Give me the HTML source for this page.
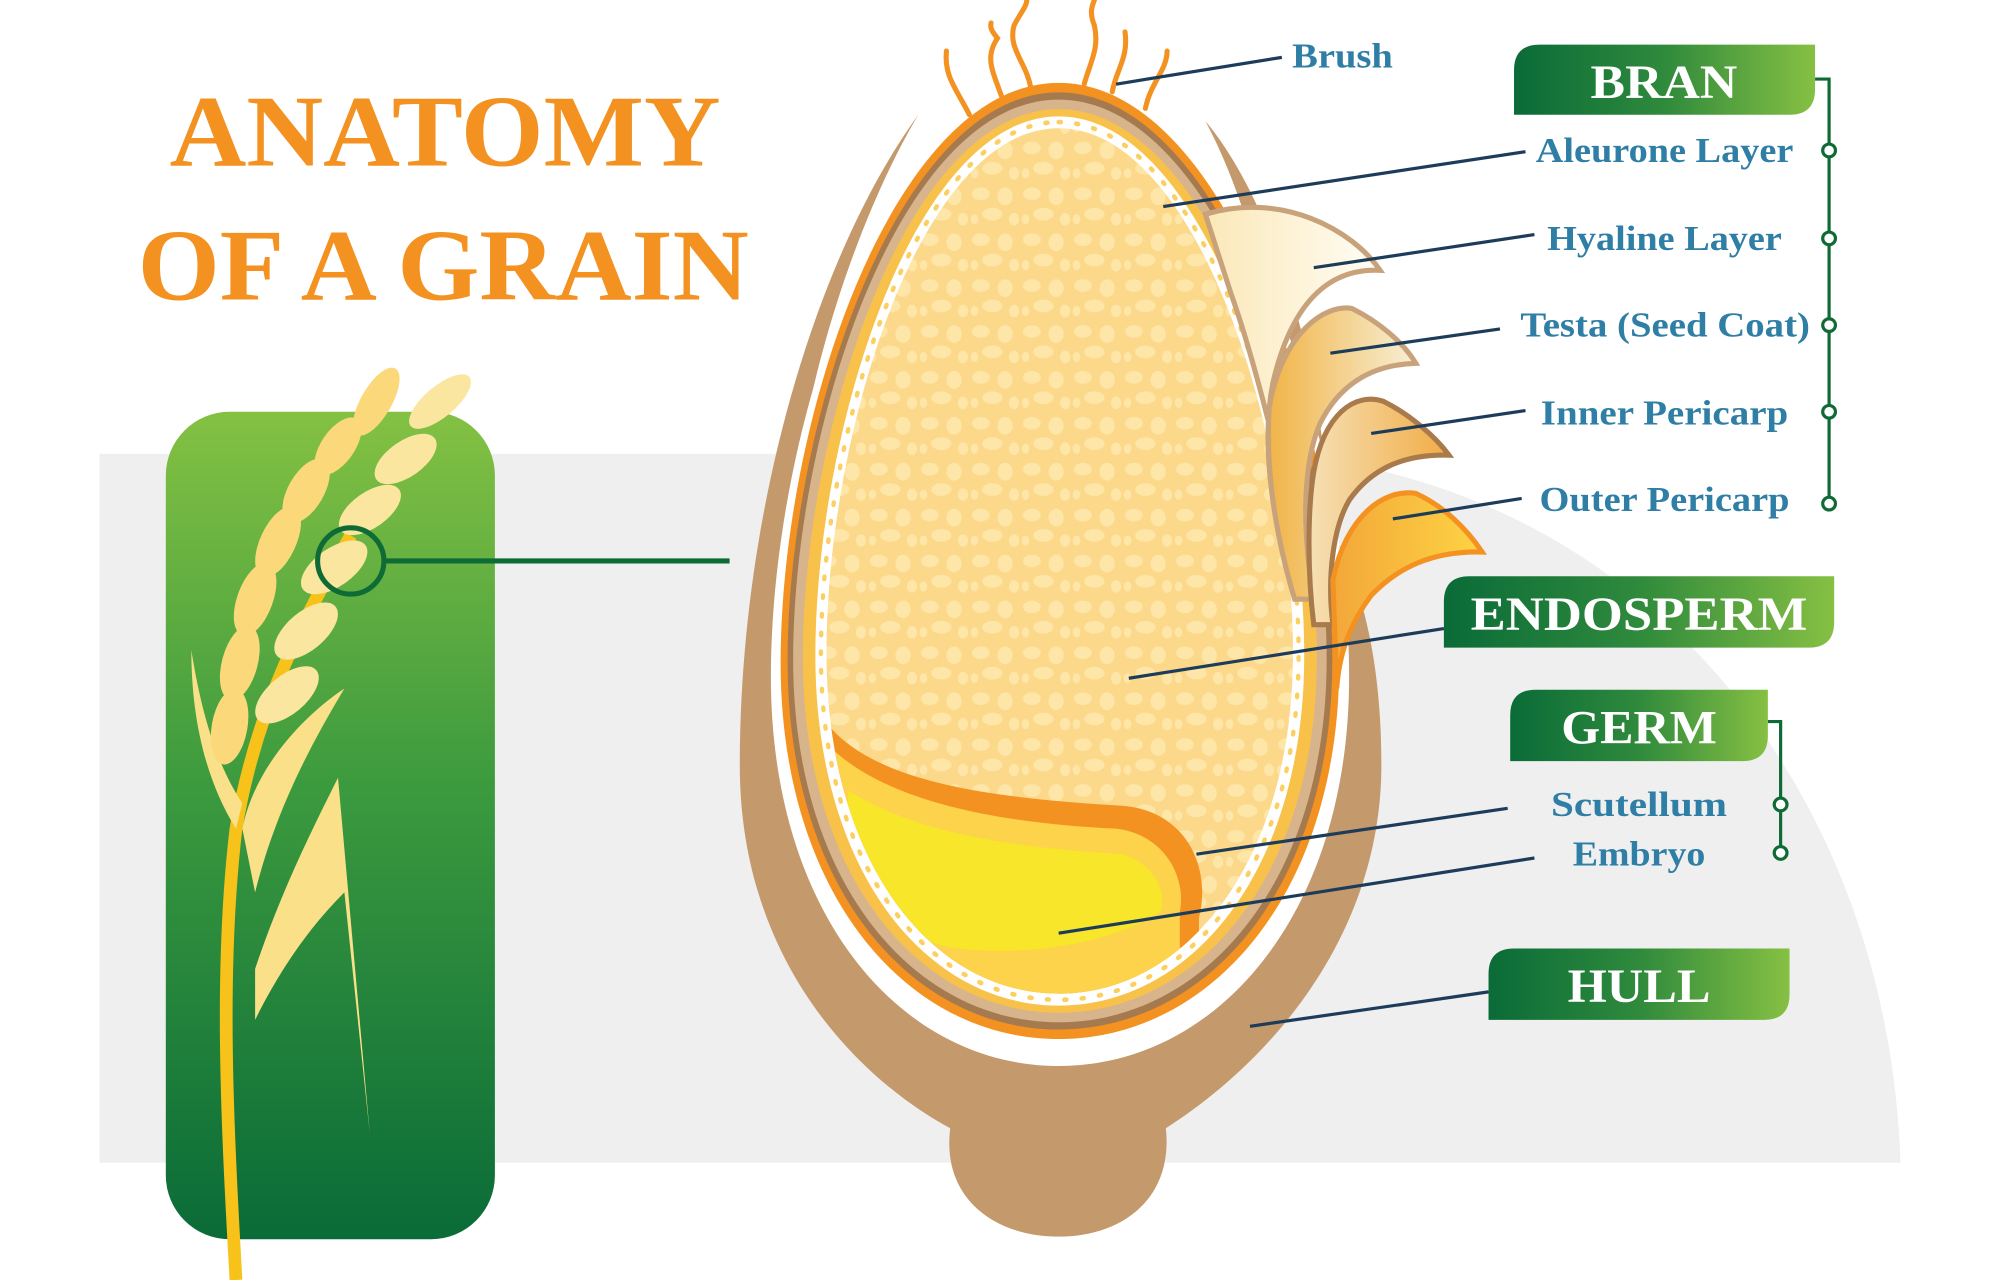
<!DOCTYPE html>
<html><head><meta charset="utf-8"><style>html,body{margin:0;padding:0;background:#fff}svg{display:block}</style></head>
<body>
<svg width="2000" height="1280" viewBox="0 0 1568 1004" preserveAspectRatio="none" xmlns="http://www.w3.org/2000/svg">
<defs>
<linearGradient id="gBox" x1="0" y1="0" x2="1" y2="0"><stop offset="0" stop-color="#0a6b38"/><stop offset="0.5" stop-color="#2f8a3c"/><stop offset="1" stop-color="#86c043"/></linearGradient>
<linearGradient id="gPanel" x1="0" y1="0" x2="0" y2="1"><stop offset="0" stop-color="#84c143"/><stop offset="0.45" stop-color="#3c9a3e"/><stop offset="1" stop-color="#0a6b38"/></linearGradient>
<linearGradient id="gF1" x1="0" y1="0" x2="1" y2="0"><stop offset="0" stop-color="#fbe8b8"/><stop offset="1" stop-color="#fffdf5"/></linearGradient>
<linearGradient id="gF2" x1="0" y1="0" x2="1" y2="0"><stop offset="0" stop-color="#f1b447"/><stop offset="1" stop-color="#f7efd6"/></linearGradient>
<linearGradient id="gF3" x1="0" y1="0" x2="1" y2="0"><stop offset="0" stop-color="#f6e0b5"/><stop offset="1" stop-color="#f1ac45"/></linearGradient>
<linearGradient id="gF4" x1="0" y1="0" x2="1" y2="0"><stop offset="0" stop-color="#f3a73a"/><stop offset="1" stop-color="#fdd443"/></linearGradient>
<pattern id="blobs" width="40" height="36" patternUnits="userSpaceOnUse">
<rect width="40" height="36" fill="#fcd88a"/>
<ellipse cx="9" cy="8" rx="7" ry="5" fill="#fde6a8"/><ellipse cx="28" cy="10" rx="6" ry="7" fill="#fde6a8"/>
<ellipse cx="18" cy="24" rx="8" ry="5" fill="#fde6a8"/><ellipse cx="35" cy="28" rx="4" ry="5" fill="#fde6a8"/><ellipse cx="4" cy="28" rx="3" ry="4" fill="#fde6a8"/>
</pattern>
<clipPath id="inner"><path transform="translate(830,440) scale(0.835,0.905) translate(-830,-440)" d="M830,65 C960,65 1050,330 1050,520 C1050,700 950,815 830,815 C710,815 612,700 612,520 C612,330 700,65 830,65 Z"/></clipPath>
</defs>
<rect width="1568" height="1004" fill="#fff"/>
<path d="M78,356 L1000,356 C1290,380 1480,620 1490,912 L78,912 Z" fill="#efefef"/>
<text x="133" y="130" textLength="432" lengthAdjust="spacingAndGlyphs" font-family="Liberation Serif, serif" font-weight="bold" font-size="80" fill="#f39221">ANATOMY</text>
<text x="108" y="235" textLength="479" lengthAdjust="spacingAndGlyphs" font-family="Liberation Serif, serif" font-weight="bold" font-size="80" fill="#f39221">OF A GRAIN</text>
<rect x="130" y="323" width="258" height="649" rx="50" fill="url(#gPanel)"/>
<!-- wheat -->
<g>
<path d="M185,1004 C178,880 172,760 185,650 C200,560 235,490 275,420" stroke="#f7c21a" stroke-width="10" fill="none"/>
<path d="M190,650 C200,600 240,560 270,540 C240,590 215,640 200,700 Z" fill="#fbe08a"/>
<path d="M150,510 C150,560 160,610 185,650 L190,630 C170,600 158,560 150,510 Z" fill="#fbe08a"/>
<path d="M200,760 C220,700 245,650 265,610 L290,890 L270,700 C250,720 225,750 200,800 Z" fill="#fbe08a"/>
<g fill="#fbd97a">
<ellipse cx="180" cy="570" rx="14" ry="30" transform="rotate(10 180 570)"/>
<ellipse cx="188" cy="520" rx="14" ry="30" transform="rotate(15 188 520)"/>
<ellipse cx="200" cy="470" rx="14" ry="30" transform="rotate(20 200 470)"/>
<ellipse cx="218" cy="425" rx="14" ry="30" transform="rotate(25 218 425)"/>
<ellipse cx="240" cy="385" rx="14" ry="28" transform="rotate(30 240 385)"/>
<ellipse cx="265" cy="350" rx="13" ry="26" transform="rotate(35 265 350)"/>
<ellipse cx="295" cy="315" rx="12" ry="30" transform="rotate(30 295 315)"/>
</g>
<g fill="#fbe6a0">
<ellipse cx="225" cy="545" rx="15" ry="30" transform="rotate(50 225 545)"/>
<ellipse cx="240" cy="495" rx="15" ry="30" transform="rotate(50 240 495)"/>
<ellipse cx="262" cy="445" rx="15" ry="30" transform="rotate(55 262 445)"/>
<ellipse cx="290" cy="400" rx="14" ry="28" transform="rotate(55 290 400)"/>
<ellipse cx="318" cy="360" rx="14" ry="28" transform="rotate(55 318 360)"/>
<ellipse cx="345" cy="315" rx="12" ry="30" transform="rotate(50 345 315)"/>
</g>
<circle cx="275" cy="440" r="26" fill="none" stroke="#0f6b36" stroke-width="4"/>
<line x1="301" y1="440" x2="572" y2="440" stroke="#0f6b36" stroke-width="4"/>
</g>
<!-- hull -->
<path d="M720,90 C640,200 580,400 580,600 C580,760 680,850 745,885 C738,940 780,970 830,970 C880,970 920,940 914,885 C1000,830 1083,730 1083,600 C1083,500 1060,440 1040,410 C1000,250 980,160 945,95 C1000,160 1040,300 1040,400 L620,400 C640,250 690,140 720,90 Z" fill="#c4996b"/>
<path transform="translate(830,448) scale(1.035,1.035) translate(-830,-440)" d="M830,65 C960,65 1050,330 1050,520 C1050,700 950,815 830,815 C710,815 612,700 612,520 C612,330 700,65 830,65 Z" fill="#fff"/>
<!-- egg layers -->
<path d="M830,65 C960,65 1050,330 1050,520 C1050,700 950,815 830,815 C710,815 612,700 612,520 C612,330 700,65 830,65 Z" fill="#f39221"/>
<path transform="translate(830,440) scale(0.975,0.98) translate(-830,-440)" d="M830,65 C960,65 1050,330 1050,520 C1050,700 950,815 830,815 C710,815 612,700 612,520 C612,330 700,65 830,65 Z" fill="#a57a4f"/>
<path transform="translate(830,440) scale(0.955,0.965) translate(-830,-440)" d="M830,65 C960,65 1050,330 1050,520 C1050,700 950,815 830,815 C710,815 612,700 612,520 C612,330 700,65 830,65 Z" fill="#d7b48c"/>
<path transform="translate(830,440) scale(0.92,0.945) translate(-830,-440)" d="M830,65 C960,65 1050,330 1050,520 C1050,700 950,815 830,815 C710,815 612,700 612,520 C612,330 700,65 830,65 Z" fill="#f8c24a"/>
<path transform="translate(830,440) scale(0.875,0.93) translate(-830,-440)" d="M830,65 C960,65 1050,330 1050,520 C1050,700 950,815 830,815 C710,815 612,700 612,520 C612,330 700,65 830,65 Z" fill="#fff"/>
<path transform="translate(830,440) scale(0.855,0.918) translate(-830,-440)" d="M830,65 C960,65 1050,330 1050,520 C1050,700 950,815 830,815 C710,815 612,700 612,520 C612,330 700,65 830,65 Z" fill="none" stroke="#fcd060" stroke-width="4" stroke-dasharray="2 14" stroke-linecap="round"/>
<g clip-path="url(#inner)">
<rect x="600" y="60" width="460" height="760" fill="url(#blobs)"/>
<path d="M640,555 C670,610 760,625 880,632 C930,636 950,680 940,720 L940,820 L600,820 Z" fill="#f39221"/>
<path d="M650,585 C690,625 770,645 875,650 C915,655 930,690 925,715 L925,820 L600,820 Z" fill="#fcd34a"/>
<path d="M665,620 C720,655 800,665 880,670 C905,678 915,700 910,715 C880,735 820,750 760,745 C700,740 660,700 665,620 Z" fill="#f8e62a"/>
</g>
<!-- brush -->
<g stroke="#f39221" stroke-width="4" fill="none" stroke-linecap="round">
<path d="M760,90 C750,70 740,60 742,40"/>
<path d="M785,75 C778,55 772,45 782,30 C778,25 776,22 777,18"/>
<path d="M808,68 C804,48 790,38 795,20 C800,10 805,5 805,0"/>
<path d="M850,66 C855,48 862,38 858,20 C854,10 856,5 858,0"/>
<path d="M872,72 C875,55 885,45 882,25"/>
<path d="M898,85 C902,65 915,55 915,40"/>
</g>
<!-- flaps -->
<path d="M945,168 C1005,150 1060,180 1082,212 C1040,210 1012,240 998,300 C990,340 995,400 1010,440 L1030,470 C1010,400 990,300 965,230 Z" fill="url(#gF1)" stroke="#c8a27a" stroke-width="4"/>
<path d="M995,320 C1005,260 1040,238 1060,242 C1080,252 1100,268 1110,285 C1075,286 1050,302 1035,332 C1022,362 1020,410 1030,470 L1015,470 C1000,420 992,370 995,320 Z" fill="url(#gF2)" stroke="#c8a27a" stroke-width="4"/>
<path d="M1030,370 C1038,325 1062,307 1085,315 C1105,325 1125,342 1136,357 C1100,356 1075,368 1058,392 C1046,412 1040,450 1045,490 L1030,490 C1025,450 1025,400 1030,370 Z" fill="url(#gF3)" stroke="#a87a4c" stroke-width="4"/>
<path d="M1045,455 C1055,405 1085,383 1110,387 C1132,397 1150,415 1162,433 C1122,432 1095,446 1075,467 C1060,487 1050,510 1048,540 Z" fill="url(#gF4)" stroke="#f39221" stroke-width="4"/>
<!-- leader lines -->
<g stroke="#1d3c5a" stroke-width="2.5">
<line x1="875" y1="66" x2="1005" y2="45"/>
<line x1="912" y1="162" x2="1196" y2="119"/>
<line x1="1030" y1="210" x2="1203" y2="184"/>
<line x1="1043" y1="277" x2="1176" y2="258"/>
<line x1="1075" y1="340" x2="1196" y2="322"/>
<line x1="1092" y1="407" x2="1193" y2="391"/>
<line x1="885" y1="532" x2="1132" y2="493"/>
<line x1="938" y1="670" x2="1182" y2="634"/>
<line x1="830" y1="732" x2="1203" y2="673"/>
<line x1="980" y1="805" x2="1167" y2="778"/>
</g>
<!-- brackets -->
<g stroke="#0f6b36" stroke-width="2.5" fill="#fff">
<polyline points="1423,62 1434,62 1434,395" fill="none"/>
<circle cx="1434" cy="118" r="5"/><circle cx="1434" cy="187" r="5"/><circle cx="1434" cy="255" r="5"/><circle cx="1434" cy="323" r="5"/><circle cx="1434" cy="395" r="5"/>
<polyline points="1386,566 1396,566 1396,669" fill="none"/>
<circle cx="1396" cy="631" r="5"/><circle cx="1396" cy="669" r="5"/>
</g>
<!-- boxes -->
<path d="M1207,35 H1423 V70 Q1423,90 1403,90 H1187 V55 Q1187,35 1207,35 Z" fill="url(#gBox)"/>
<path d="M1152,452 H1438 V488 Q1438,508 1418,508 H1132 V472 Q1132,452 1152,452 Z" fill="url(#gBox)"/>
<path d="M1204,541 H1386 V577 Q1386,597 1366,597 H1184 V561 Q1184,541 1204,541 Z" fill="url(#gBox)"/>
<path d="M1187,744 H1403 V780 Q1403,800 1383,800 H1167 V764 Q1167,744 1187,744 Z" fill="url(#gBox)"/>
<g font-family="Liberation Serif, serif" font-weight="bold" fill="#fff" font-size="37" lengthAdjust="spacingAndGlyphs">
<text x="1247" y="77" textLength="115" lengthAdjust="spacingAndGlyphs">BRAN</text>
<text x="1153" y="494" textLength="264" lengthAdjust="spacingAndGlyphs">ENDOSPERM</text>
<text x="1224" y="583" textLength="122" lengthAdjust="spacingAndGlyphs">GERM</text>
<text x="1229" y="786" textLength="112" lengthAdjust="spacingAndGlyphs">HULL</text>
</g>
<g font-family="Liberation Serif, serif" font-weight="bold" fill="#2e7ea6" font-size="27">
<text x="1013" y="53" textLength="79" lengthAdjust="spacingAndGlyphs">Brush</text>
<text x="1204" y="127" textLength="202" lengthAdjust="spacingAndGlyphs">Aleurone Layer</text>
<text x="1213" y="196" textLength="184" lengthAdjust="spacingAndGlyphs">Hyaline Layer</text>
<text x="1192" y="264" textLength="227" lengthAdjust="spacingAndGlyphs">Testa (Seed Coat)</text>
<text x="1208" y="333" textLength="194" lengthAdjust="spacingAndGlyphs">Inner Pericarp</text>
<text x="1207" y="401" textLength="196" lengthAdjust="spacingAndGlyphs">Outer Pericarp</text>
<text x="1216" y="640" textLength="138" lengthAdjust="spacingAndGlyphs">Scutellum</text>
<text x="1233" y="679" textLength="104" lengthAdjust="spacingAndGlyphs">Embryo</text>
</g>
</svg>
</body></html>
